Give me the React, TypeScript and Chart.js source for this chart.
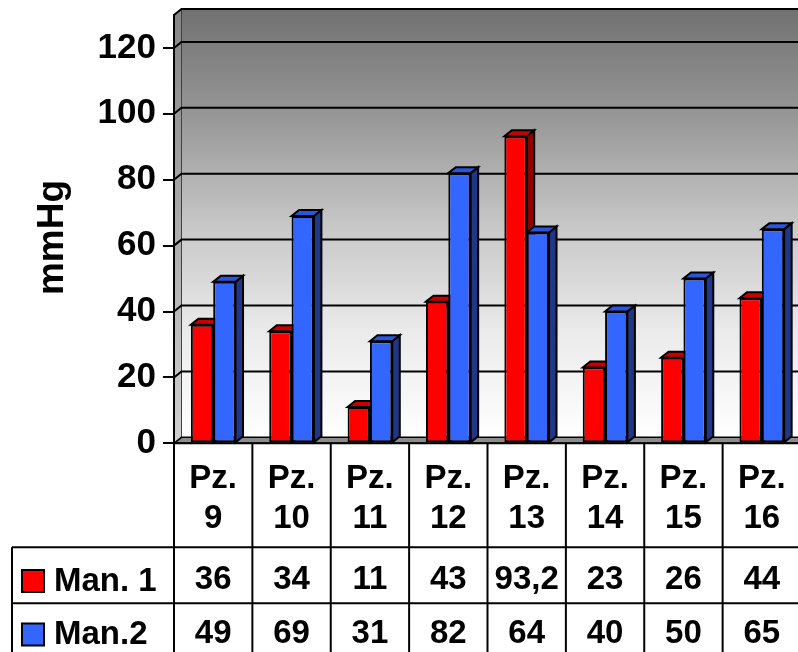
import React, { useEffect, useRef } from 'react';
import { Chart, registerables } from 'chart.js';

Chart.register(...registerables);

// Blood pressure readings per patient, two manoeuvres
const patients = ['Pz. 9', 'Pz. 10', 'Pz. 11', 'Pz. 12', 'Pz. 13', 'Pz. 14', 'Pz. 15', 'Pz. 16'];
const man1 = [36, 34, 11, 43, 93.2, 23, 26, 44];
const man2 = [49, 69, 31, 82, 64, 40, 50, 65];
const seriesNames = ['Man. 1', 'Man.2'];
const yTicks = [0, 20, 40, 60, 80, 100, 120];
const yMax = 130;
const axisTitle = 'mmHg';

const FONT = '"Liberation Sans", Arial, Helvetica, sans-serif';
const DX = 7.5; // depth offset of the 3D look
const DY = -6;

const faceColors = [
  { front: '#FF0000', side: '#8E0000', top: '#C80000' },
  { front: '#3366FF', side: '#1F3785', top: '#2B55DB' },
];

const fmt = (v: number) => String(v).replace('.', ',');

const scenePlugin = {
  id: 'scene3d',
  beforeDraw(chart: any) {
    const { ctx, chartArea: a, scales } = chart;
    const y = scales.y;
    const { left, right, top, bottom } = a;
    ctx.save();

    // back wall with vertical gradient
    const g = ctx.createLinearGradient(0, top + DY, 0, bottom + DY);
    g.addColorStop(0, '#717171');
    g.addColorStop(0.25, '#979797');
    g.addColorStop(0.5, '#c6c6c6');
    g.addColorStop(0.75, '#eaeaea');
    g.addColorStop(1, '#ffffff');
    ctx.fillStyle = g;
    ctx.fillRect(left + DX, top + DY, right - left + 20, bottom - top);

    // side wall
    const gs = ctx.createLinearGradient(0, top, 0, bottom);
    gs.addColorStop(0, '#858585');
    gs.addColorStop(0.5, '#acacac');
    gs.addColorStop(1, '#d0d0d0');
    ctx.beginPath();
    ctx.moveTo(left, top);
    ctx.lineTo(left + DX, top + DY);
    ctx.lineTo(left + DX, bottom + DY);
    ctx.lineTo(left, bottom);
    ctx.closePath();
    ctx.fillStyle = gs;
    ctx.fill();
    ctx.strokeStyle = '#404040';
    ctx.lineWidth = 1;
    ctx.stroke();

    // floor
    ctx.beginPath();
    ctx.moveTo(left, bottom);
    ctx.lineTo(left + DX, bottom + DY);
    ctx.lineTo(right + DX + 20, bottom + DY);
    ctx.lineTo(right + 20, bottom);
    ctx.closePath();
    ctx.fillStyle = '#8c8c8c';
    ctx.fill();
    ctx.strokeStyle = '#000';
    ctx.lineWidth = 1.5;
    ctx.stroke();

    // gridlines on the back wall
    ctx.strokeStyle = '#000';
    ctx.lineWidth = 2;
    yTicks.forEach((v) => {
      if (v === 0) return;
      const py = y.getPixelForValue(v);
      ctx.beginPath();
      ctx.moveTo(left, py);
      ctx.lineTo(left + DX, py + DY);
      ctx.lineTo(right + DX + 20, py + DY);
      ctx.stroke();
    });

    // top edge of the walls
    ctx.beginPath();
    ctx.moveTo(left, top);
    ctx.lineTo(left + DX, top + DY);
    ctx.lineTo(right + DX + 20, top + DY);
    ctx.stroke();
    ctx.restore();
  },
  beforeDatasetsDraw(chart: any) {
    const { ctx } = chart;
    ctx.save();
    ctx.strokeStyle = '#000';
    ctx.lineWidth = 2;
    ctx.lineJoin = 'miter';
    chart.data.datasets.forEach((_: any, di: number) => {
      const meta = chart.getDatasetMeta(di);
      const c = faceColors[di];
      meta.data.forEach((el: any) => {
        const { x, y, base, width } = el.getProps(['x', 'y', 'base', 'width'], true);
        const l = x - width / 2;
        const r = x + width / 2;
        // right side face
        ctx.beginPath();
        ctx.moveTo(r, y);
        ctx.lineTo(r + DX, y + DY);
        ctx.lineTo(r + DX, base + DY);
        ctx.lineTo(r, base);
        ctx.closePath();
        ctx.fillStyle = c.side;
        ctx.fill();
        ctx.stroke();
        // top face
        ctx.beginPath();
        ctx.moveTo(l, y);
        ctx.lineTo(l + DX, y + DY);
        ctx.lineTo(r + DX, y + DY);
        ctx.lineTo(r, y);
        ctx.closePath();
        ctx.fillStyle = c.top;
        ctx.fill();
        ctx.stroke();
      });
    });
    ctx.restore();
  },
  afterDraw(chart: any) {
    const { ctx, chartArea: a, scales } = chart;
    const x = scales.x;
    const { left, right, bottom } = a;
    const H = chart.height;
    const catW = (right - left) / patients.length;
    const row1 = 547.3;
    const row2 = 603.3;
    const tableLeft = 12;
    ctx.save();
    ctx.strokeStyle = '#000';
    ctx.lineWidth = 2;

    // front edge of the floor
    ctx.beginPath();
    ctx.moveTo(left, bottom);
    ctx.lineTo(right + 5, bottom);
    ctx.stroke();

    // table grid
    for (let k = 0; k <= patients.length; k++) {
      const px = left + k * catW;
      ctx.beginPath();
      ctx.moveTo(px, bottom);
      ctx.lineTo(px, H + 2);
      ctx.stroke();
    }
    [row1, row2].forEach((ry) => {
      ctx.beginPath();
      ctx.moveTo(tableLeft, ry);
      ctx.lineTo(right + 5, ry);
      ctx.stroke();
    });
    ctx.beginPath();
    ctx.moveTo(tableLeft, row1);
    ctx.lineTo(tableLeft, H + 2);
    ctx.stroke();

    // values and legend keys
    ctx.fillStyle = '#000';
    ctx.font = `bold 33px ${FONT}`;
    ctx.textBaseline = 'middle';
    const rowMid = [580, 633.5];
    chart.data.datasets.forEach((ds: any, di: number) => {
      const my = rowMid[di];
      ctx.textAlign = 'center';
      ctx.fillStyle = '#000';
      (ds.data as number[]).forEach((v, i) => {
        ctx.fillText(fmt(v), x.getPixelForValue(i), my);
      });
      // legend key
      ctx.fillStyle = faceColors[di].front;
      ctx.fillRect(22, my - 10, 22, 22);
      ctx.lineWidth = 2;
      ctx.strokeRect(22, my - 10, 22, 22);
      ctx.fillStyle = '#000';
      ctx.textAlign = 'left';
      ctx.fillText(ds.label, 54, my + 1.5);
    });

    // axis title
    ctx.translate(62.7, 237.5);
    ctx.rotate(-Math.PI / 2);
    ctx.textAlign = 'center';
    ctx.textBaseline = 'alphabetic';
    ctx.font = `bold 37px ${FONT}`;
    ctx.fillText(axisTitle, 0, 0);
    ctx.restore();
  },
};

export default function App() {
  const ref = useRef<HTMLCanvasElement | null>(null);

  useEffect(() => {
    if (!ref.current) return;
    const chart = new Chart(ref.current, {
      type: 'bar',
      data: {
        labels: patients.map((p) => p.split(' ')),
        datasets: [
          {
            label: seriesNames[0],
            data: man1,
            backgroundColor: faceColors[0].front,
            borderColor: '#000',
            borderWidth: 2,
            borderSkipped: false,
            categoryPercentage: 0.57,
            barPercentage: 1,
          },
          {
            label: seriesNames[1],
            data: man2,
            backgroundColor: faceColors[1].front,
            borderColor: '#000',
            borderWidth: 2,
            borderSkipped: false,
            categoryPercentage: 0.57,
            barPercentage: 1,
          },
        ],
      },
      options: {
        responsive: false,
        animation: false,
        devicePixelRatio: 1,
        layout: { padding: { top: 15, left: 0, right: 0, bottom: 0 } },
        plugins: {
          legend: { display: false },
          tooltip: { enabled: false },
        },
        scales: {
          x: {
            offset: true,
            grid: { display: false, drawTicks: false, tickLength: 0 },
            border: { display: false },
            ticks: {
              color: '#000',
              font: { family: FONT, size: 33, weight: 'bold', lineHeight: 1.2 },
              padding: 16,
              maxRotation: 0,
              minRotation: 0,
              autoSkip: false,
            },
            afterFit: (s: any) => {
              s.height = 652 - 443.3;
              s.paddingLeft = 0;
              s.paddingRight = 0;
            },
          },
          y: {
            min: 0,
            max: yMax,
            grid: {
              drawOnChartArea: false,
              drawTicks: true,
              tickLength: 11,
              color: '#000',
              lineWidth: 2,
            },
            border: { display: true, color: '#000', width: 2 },
            ticks: {
              color: '#000',
              font: { family: FONT, size: 35, weight: 'bold' },
              padding: 7,
            },
            afterBuildTicks: (s: any) => {
              s.ticks = yTicks.map((v) => ({ value: v }));
            },
            afterFit: (s: any) => {
              s.width = 174;
              s.paddingTop = 0;
              s.paddingBottom = 0;
            },
          },
        },
      },
      plugins: [scenePlugin],
    });
    return () => chart.destroy();
  }, []);

  return (
    <div
      style={{
        position: 'fixed',
        left: 0,
        top: 0,
        width: 798,
        height: 652,
        overflow: 'hidden',
        background: '#fff',
      }}
    >
      <canvas ref={ref} width={801} height={652} style={{ display: 'block' }} />
    </div>
  );
}
